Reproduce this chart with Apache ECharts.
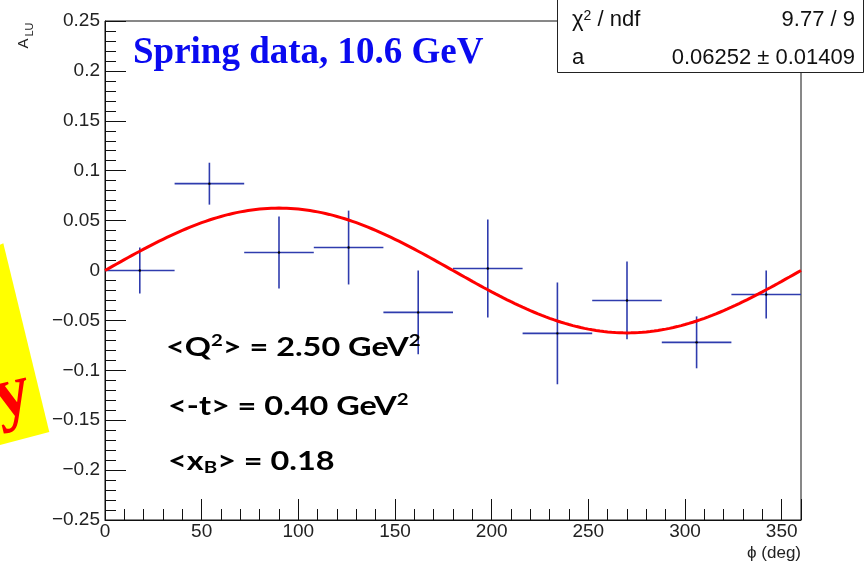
<!DOCTYPE html>
<html>
<head>
<meta charset="utf-8">
<script src="https://cdn.jsdelivr.net/npm/echarts@6/dist/echarts.min.js"></script>
<style>
  html, body { margin: 0; padding: 0; background: #fff; }
  #chart { width: 865px; height: 566px; }
</style>
</head>
<body>
<div id="chart"></div>
<script>
// Beam-spin asymmetry A_LU versus phi, spring data at 10.6 GeV, with sin(phi) fit
const phiBins   = [18, 54, 90, 126, 162, 198, 234, 270, 306, 342];
const aluValues = [0.000, 0.087, 0.018, 0.023, -0.042, 0.002, -0.063, -0.030, -0.072, -0.024];
const aluErrors = [0.023, 0.021, 0.036, 0.037, 0.042, 0.049, 0.051, 0.039, 0.026, 0.024];
const binHalfWidth = 18;

const xTickValues = [0, 50, 100, 150, 200, 250, 300, 350];
const yTickValues = [-0.25, -0.2, -0.15, -0.1, -0.05, 0, 0.05, 0.1, 0.15, 0.2, 0.25];

// fit result: A_LU = a * sin(phi)
const fitA = 0.06252;
const fitAErr = 0.01409;
const fitChi2 = 9.77;
const fitNdf = 9;

const kinematics = [
  '{b|<Q}{sup|2}{b|> = 2.50 GeV}{sup|2}',
  '{b|<-t> = 0.40 GeV}{sup|2}',
  '{b|<x}{sub|B}{b|> = 0.18}'
];

// fit curve sampled from the fitted amplitude
const fitCurve = [];
for (let p = 0; p <= 360; p += 2) {
  fitCurve.push([p, fitA * Math.sin(p * Math.PI / 180)]);
}

const errData = phiBins.map((p, i) => [p, aluValues[i], aluErrors[i], binHalfWidth]);

const sansFont = '"Liberation Sans", Arial, sans-serif';
const labelColor = '#222';

function fmtY(v) {
  const r = Math.round(v * 100) / 100;
  if (r === 0) return '0';
  return (r < 0 ? '\u2212' : '') + String(Math.abs(r));
}

const chart = echarts.init(document.getElementById('chart'), null, { renderer: 'canvas' });

const option = {
  animation: false,
  backgroundColor: '#fff',
  grid: {
    left: 105, right: 64, top: 21, bottom: 46,
    show: true, borderColor: '#111', borderWidth: 1, backgroundColor: 'transparent'
  },
  xAxis: [
    {
      type: 'value', min: 0, max: 360, interval: 50,
      axisLine: { show: true, onZero: false, lineStyle: { color: '#111', width: 1 } },
      axisTick: { show: true, inside: true, length: 21, lineStyle: { color: '#111', width: 1 } },
      axisLabel: {
        show: true, margin: 2, color: labelColor, fontFamily: sansFont, fontSize: 19,
        formatter: v => (xTickValues.indexOf(v) >= 0 ? String(v) : '')
      },
      splitLine: { show: false }
    },
    {
      type: 'value', min: 0, max: 360, interval: 10, position: 'bottom',
      axisLine: { show: false, onZero: false },
      axisTick: { show: true, inside: true, length: 11, lineStyle: { color: '#111', width: 1 } },
      axisLabel: { show: false },
      splitLine: { show: false }
    }
  ],
  yAxis: {
    type: 'value', min: yTickValues[0], max: yTickValues[yTickValues.length - 1], interval: 0.05,
    axisLine: { show: true, onZero: false, lineStyle: { color: '#111', width: 1 } },
    axisTick: { show: true, inside: true, length: 21, lineStyle: { color: '#111', width: 1 } },
    minorTick: { show: true, splitNumber: 5, length: 11, lineStyle: { color: '#111', width: 1 } },
    axisLabel: {
      show: true, margin: 5, color: labelColor, fontFamily: sansFont, fontSize: 19,
      formatter: fmtY
    },
    splitLine: { show: false }
  },
  series: [
    {
      type: 'custom',
      xAxisIndex: 0,
      data: errData,
      z: 3,
      renderItem: function (params, api) {
        const x = api.value(0), y = api.value(1), e = api.value(2), hw = api.value(3);
        const c = api.coord([x, y]);
        const l = api.coord([x - hw, y]);
        const r = api.coord([x + hw, y]);
        const t = api.coord([x, y + e]);
        const b = api.coord([x, y - e]);
        const st = { stroke: '#2f3cae', lineWidth: 1.6 };
        return {
          type: 'group',
          children: [
            { type: 'line', shape: { x1: l[0], y1: l[1], x2: r[0], y2: r[1] }, style: st },
            { type: 'line', shape: { x1: t[0], y1: t[1], x2: b[0], y2: b[1] }, style: st },
            { type: 'circle', shape: { cx: c[0], cy: c[1], r: 1.2 }, style: { fill: '#000' } }
          ]
        };
      }
    },
    {
      type: 'line',
      xAxisIndex: 0,
      data: fitCurve,
      showSymbol: false,
      smooth: false,
      z: 4,
      lineStyle: { color: '#ff0000', width: 3 }
    }
  ],
  graphic: [
    // yellow tag at the left edge
    {
      type: 'polygon', z: 1,
      shape: { points: [[3.3, 243.3], [49.3, 432], [-60, 461], [-60, 270]] },
      style: { fill: '#ffff00' }
    },
    {
      type: 'text', z: 2, x: 12, y: 396, rotation: 0.24,
      style: {
        text: 'y', fill: '#ff0000', font: 'bold 74px "Liberation Serif", "Times New Roman", serif',
        align: 'center', verticalAlign: 'middle'
      }
    },
    // y-axis title A_LU, written bottom-to-top
    {
      type: 'text', z: 10, x: 24, y: 43.5, rotation: Math.PI / 2,
      style: { text: 'A', fill: '#222', font: '15px ' + sansFont, align: 'center', verticalAlign: 'middle' }
    },
    {
      type: 'text', z: 10, x: 30, y: 29.5, rotation: Math.PI / 2,
      style: { text: 'LU', fill: '#222', font: '11px ' + sansFont, align: 'center', verticalAlign: 'middle' }
    },
    // x-axis title
    {
      type: 'text', z: 10, x: 801, y: 553,
      style: { text: '\u03d5 (deg)', fill: '#222', font: '17px ' + sansFont, align: 'right', verticalAlign: 'middle' }
    },
    // dataset title
    {
      type: 'text', z: 10, x: 133, y: 53,
      style: {
        text: 'Spring data, 10.6 GeV', fill: '#0a0af0',
        font: 'bold 37px "Liberation Serif", "Times New Roman", serif',
        align: 'left', verticalAlign: 'middle'
      }
    },
    // fit statistics box
    {
      type: 'rect', z: 20,
      shape: { x: 557.5, y: -2, width: 306, height: 74.5 },
      style: { fill: '#fff', stroke: '#222', lineWidth: 1 }
    },
    {
      type: 'text', z: 21, x: 572, y: 20,
      style: {
        text: '\u03c7{sup|2} / ndf', fill: '#111', font: '22px ' + sansFont,
        align: 'left', verticalAlign: 'middle',
        rich: { sup: { fontSize: 14, fontFamily: sansFont, verticalAlign: 'top', lineHeight: 15, fill: '#111' } }
      }
    },
    {
      type: 'text', z: 21, x: 855, y: 20,
      style: { text: fitChi2.toFixed(2) + ' / ' + fitNdf, fill: '#111', font: '22px ' + sansFont, align: 'right', verticalAlign: 'middle' }
    },
    {
      type: 'text', z: 21, x: 572, y: 58,
      style: { text: 'a', fill: '#111', font: '22px ' + sansFont, align: 'left', verticalAlign: 'middle' }
    },
    {
      type: 'text', z: 21, x: 855, y: 58,
      style: { text: fitA.toFixed(5) + ' \u00b1 ' + fitAErr.toFixed(5), fill: '#111', font: '22px ' + sansFont, align: 'right', verticalAlign: 'middle' }
    }
  ].concat(kinematics.map((txt, i) => ({
    type: 'text', z: 6, x: [166, 168, 168][i], y: [347, 406, 461][i], scaleX: 1.2,
    style: {
      text: txt, align: 'left', verticalAlign: 'middle',
      rich: {
        b: { fontFamily: 'Lato', fontWeight: 'bold', fontSize: 27, lineHeight: 30, fill: '#000' },
        sup: { fontFamily: 'Lato', fontWeight: 'bold', fontSize: 17, lineHeight: 20, verticalAlign: 'top', fill: '#000' },
        sub: { fontFamily: 'Lato', fontWeight: 'bold', fontSize: 17, lineHeight: 12, verticalAlign: 'bottom', fill: '#000' }
      }
    }
  })))
};

chart.setOption(option);
</script>
</body>
</html>
